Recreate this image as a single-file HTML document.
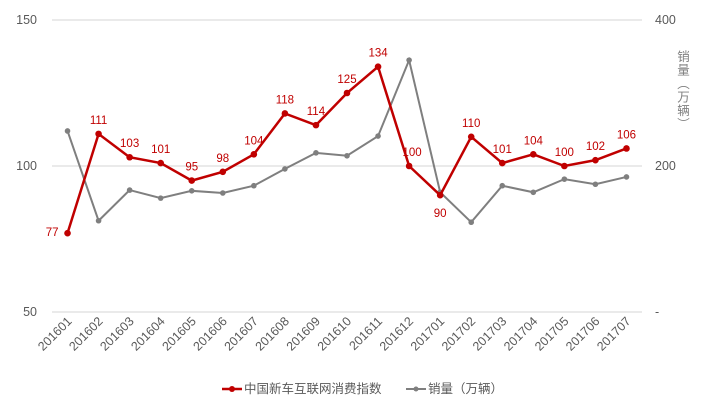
<!DOCTYPE html>
<html><head><meta charset="utf-8"><style>
body{margin:0;background:#fff;width:710px;height:408px;overflow:hidden}
svg text{font-family:"Liberation Sans","Noto Sans CJK SC",sans-serif}
</style></head><body>
<svg id="chart" width="710" height="408"></svg>
<script>
const categories=["201601","201602","201603","201604","201605","201606","201607","201608","201609","201610","201611","201612","201701","201702","201703","201704","201705","201706","201707"];
const indexValues=[77,111,103,101,95,98,104,118,114,125,134,100,90,110,101,104,100,102,106];
const salesValues=[248,125,167,156,166,163,173,196,218,214,241,345,164,123,173,164,182,175,185];
const leftTicks=[50,100,150];
const rightTicks=[0,200,400];
const NS="http://www.w3.org/2000/svg";
const svg=document.getElementById('chart');
const X0=52,X1=642,Y0=312,Y1=20;
const band=(X1-X0)/categories.length;
const x=i=>X0+band*(i+0.5);
const yL=v=>Y0-(v-50)/100*(Y0-Y1);
const yR=v=>Y0-v/400*(Y0-Y1);
function mk(t,a,txt){const e=document.createElementNS(NS,t);for(const k in a)e.setAttribute(k,a[k]);if(txt!==undefined)e.textContent=txt;svg.appendChild(e);return e;}
leftTicks.forEach((v,i)=>{
 const g=mk('line',{x1:X0,x2:X1,y1:yL(v),y2:yL(v),stroke:'#e3e3e3','stroke-width':1.5});
 
 
 const t=mk('text',{x:37,y:yL(v)+4,'text-anchor':'end','font-size':12.5,fill:'#595959'},v);
 
 
});
rightTicks.forEach(v=>{
 const t=mk('text',{x:655,y:yR(v)+4,'font-size':12.5,fill:'#595959'},v===0?'-':v);
 
 
});
const rt=mk('text',{x:682,y:50,'font-size':12.5,fill:'#7f7f7f','writing-mode':'tb','letter-spacing':'1'},'销量（万辆）');


categories.forEach((c,i)=>{
 const t=mk('text',{x:0,y:0,'font-size':12.5,fill:'#595959','text-anchor':'end',transform:`translate(${x(i)+5},${Y0+10}) rotate(-45)`},c);
 
 
});
const gp=mk('polyline',{points:salesValues.map((v,i)=>x(i)+','+yR(v)).join(' '),fill:'none',stroke:'#7f7f7f','stroke-width':2});


salesValues.forEach((v,i)=>{const c=mk('circle',{cx:x(i),cy:yR(v),r:2.8,fill:'#7f7f7f'});
 
 });
const rp=mk('polyline',{points:indexValues.map((v,i)=>x(i)+','+yL(v)).join(' '),fill:'none',stroke:'#c00000','stroke-width':2.5});


indexValues.forEach((v,i)=>{
 const c=mk('circle',{cx:x(i),cy:yL(v),r:3.3,fill:'#c00000'});
 
 
 let lx=x(i),ly=yL(v)-10,anc='middle';
 if(i===0){lx=x(i)-9;ly=yL(v)+3;anc='end';}
 if(i===12){ly=yL(v)+22;}
 if(i===11){lx=x(i)+3;}
 const t=mk('text',{x:lx,y:ly,'font-size':11.5,fill:'#c00000','text-anchor':anc},v);
 
 
});
const l1=mk('line',{x1:222,x2:242,y1:389,y2:389,stroke:'#c00000','stroke-width':2.5});


const c1=mk('circle',{cx:232,cy:389,r:3,fill:'#c00000'});


const t1=mk('text',{x:244,y:393,'font-size':12.5,fill:'#595959'},'中国新车互联网消费指数');


const l2=mk('line',{x1:406,x2:426,y1:389,y2:389,stroke:'#7f7f7f','stroke-width':2});


const c2=mk('circle',{cx:416,cy:389,r:2.5,fill:'#7f7f7f'});


const t2=mk('text',{x:428,y:393,'font-size':12.5,fill:'#595959'},'销量（万辆）');


</script>
</body></html>
